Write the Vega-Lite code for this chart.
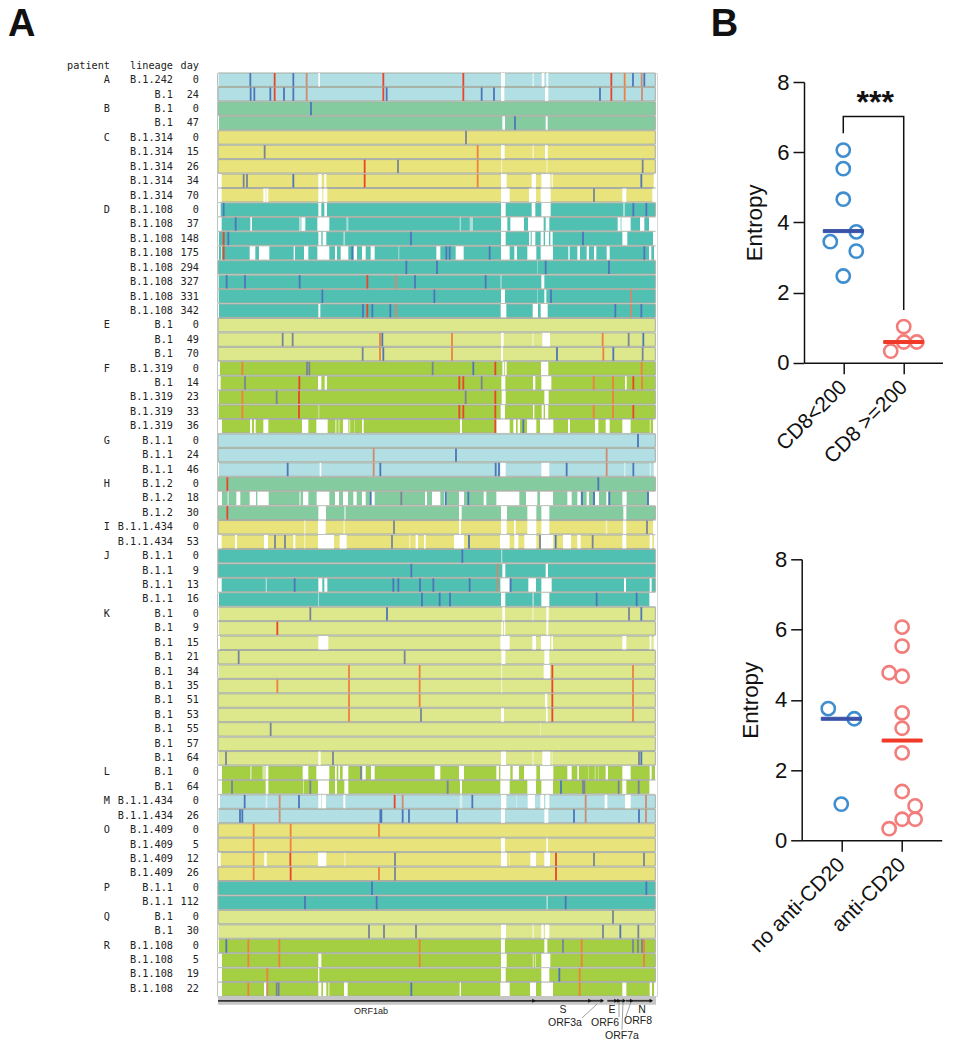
{"$schema":"https://vega.github.io/schema/vega-lite/v6.json","padding":{"left":7,"top":5,"right":0,"bottom":0},"background":"white","bounds":"flush","spacing":144.7,"config":{"view":{"stroke":null},"font":"Liberation Sans","axis":{"grid":false,"domainColor":"#111","tickColor":"#111","labelColor":"#111","titleColor":"#111"}},
"datasets":{
"samples":[{"r":0,"label":"patient","patient":"","lineage":"lineage","day":"day","genome":"SARS-CoV-2 genome"},{"r":1,"label":"A","patient":"A","lineage":"B.1.242","day":0,"a":0,"b":1312},{"r":2,"label":"","patient":"A","lineage":"B.1","day":24,"a":0,"b":1312},{"r":3,"label":"B","patient":"B","lineage":"B.1","day":0,"a":0,"b":1312},{"r":4,"label":"","patient":"B","lineage":"B.1","day":47,"a":0,"b":1312},{"r":5,"label":"C","patient":"C","lineage":"B.1.314","day":0,"a":0,"b":1312},{"r":6,"label":"","patient":"C","lineage":"B.1.314","day":15,"a":0,"b":1312},{"r":7,"label":"","patient":"C","lineage":"B.1.314","day":26,"a":0,"b":1312},{"r":8,"label":"","patient":"C","lineage":"B.1.314","day":34,"a":0,"b":1312},{"r":9,"label":"","patient":"C","lineage":"B.1.314","day":70,"a":0,"b":1312},{"r":10,"label":"D","patient":"D","lineage":"B.1.108","day":0,"a":0,"b":1312},{"r":11,"label":"","patient":"D","lineage":"B.1.108","day":37,"a":0,"b":1312},{"r":12,"label":"","patient":"D","lineage":"B.1.108","day":148,"a":0,"b":1312},{"r":13,"label":"","patient":"D","lineage":"B.1.108","day":175,"a":0,"b":1312},{"r":14,"label":"","patient":"D","lineage":"B.1.108","day":294,"a":0,"b":1312},{"r":15,"label":"","patient":"D","lineage":"B.1.108","day":327,"a":0,"b":1312},{"r":16,"label":"","patient":"D","lineage":"B.1.108","day":331,"a":0,"b":1312},{"r":17,"label":"","patient":"D","lineage":"B.1.108","day":342,"a":0,"b":1312},{"r":18,"label":"E","patient":"E","lineage":"B.1","day":0,"a":0,"b":1312},{"r":19,"label":"","patient":"E","lineage":"B.1","day":49,"a":0,"b":1312},{"r":20,"label":"","patient":"E","lineage":"B.1","day":70,"a":0,"b":1312},{"r":21,"label":"F","patient":"F","lineage":"B.1.319","day":0,"a":0,"b":1312},{"r":22,"label":"","patient":"F","lineage":"B.1","day":14,"a":0,"b":1312},{"r":23,"label":"","patient":"F","lineage":"B.1.319","day":23,"a":0,"b":1312},{"r":24,"label":"","patient":"F","lineage":"B.1.319","day":33,"a":0,"b":1312},{"r":25,"label":"","patient":"F","lineage":"B.1.319","day":36,"a":0,"b":1312},{"r":26,"label":"G","patient":"G","lineage":"B.1.1","day":0,"a":0,"b":1312},{"r":27,"label":"","patient":"G","lineage":"B.1.1","day":24,"a":0,"b":1312},{"r":28,"label":"","patient":"G","lineage":"B.1.1","day":46,"a":0,"b":1312},{"r":29,"label":"H","patient":"H","lineage":"B.1.2","day":0,"a":0,"b":1312},{"r":30,"label":"","patient":"H","lineage":"B.1.2","day":18,"a":0,"b":1312},{"r":31,"label":"","patient":"H","lineage":"B.1.2","day":30,"a":0,"b":1312},{"r":32,"label":"I","patient":"I","lineage":"B.1.1.434","day":0,"a":0,"b":1312},{"r":33,"label":"","patient":"I","lineage":"B.1.1.434","day":53,"a":0,"b":1312},{"r":34,"label":"J","patient":"J","lineage":"B.1.1","day":0,"a":0,"b":1312},{"r":35,"label":"","patient":"J","lineage":"B.1.1","day":9,"a":0,"b":1312},{"r":36,"label":"","patient":"J","lineage":"B.1.1","day":13,"a":0,"b":1312},{"r":37,"label":"","patient":"J","lineage":"B.1.1","day":16,"a":0,"b":1312},{"r":38,"label":"K","patient":"K","lineage":"B.1","day":0,"a":0,"b":1312},{"r":39,"label":"","patient":"K","lineage":"B.1","day":9,"a":0,"b":1312},{"r":40,"label":"","patient":"K","lineage":"B.1","day":15,"a":0,"b":1312},{"r":41,"label":"","patient":"K","lineage":"B.1","day":21,"a":0,"b":1312},{"r":42,"label":"","patient":"K","lineage":"B.1","day":34,"a":0,"b":1312},{"r":43,"label":"","patient":"K","lineage":"B.1","day":35,"a":0,"b":1312},{"r":44,"label":"","patient":"K","lineage":"B.1","day":51,"a":0,"b":1312},{"r":45,"label":"","patient":"K","lineage":"B.1","day":53,"a":0,"b":1312},{"r":46,"label":"","patient":"K","lineage":"B.1","day":55,"a":0,"b":1312},{"r":47,"label":"","patient":"K","lineage":"B.1","day":57,"a":0,"b":1312},{"r":48,"label":"","patient":"K","lineage":"B.1","day":64,"a":0,"b":1312},{"r":49,"label":"L","patient":"L","lineage":"B.1","day":0,"a":0,"b":1312},{"r":50,"label":"","patient":"L","lineage":"B.1","day":64,"a":0,"b":1312},{"r":51,"label":"M","patient":"M","lineage":"B.1.1.434","day":0,"a":0,"b":1312},{"r":52,"label":"","patient":"M","lineage":"B.1.1.434","day":26,"a":0,"b":1312},{"r":53,"label":"O","patient":"O","lineage":"B.1.409","day":0,"a":0,"b":1312},{"r":54,"label":"","patient":"O","lineage":"B.1.409","day":5,"a":0,"b":1312},{"r":55,"label":"","patient":"O","lineage":"B.1.409","day":12,"a":0,"b":1312},{"r":56,"label":"","patient":"O","lineage":"B.1.409","day":26,"a":0,"b":1312},{"r":57,"label":"P","patient":"P","lineage":"B.1.1","day":0,"a":0,"b":1312},{"r":58,"label":"","patient":"P","lineage":"B.1.1","day":112,"a":0,"b":1312},{"r":59,"label":"Q","patient":"Q","lineage":"B.1","day":0,"a":0,"b":1312},{"r":60,"label":"","patient":"Q","lineage":"B.1","day":30,"a":0,"b":1312},{"r":61,"label":"R","patient":"R","lineage":"B.1.108","day":0,"a":0,"b":1312},{"r":62,"label":"","patient":"R","lineage":"B.1.108","day":5,"a":0,"b":1312},{"r":63,"label":"","patient":"R","lineage":"B.1.108","day":19,"a":0,"b":1312},{"r":64,"label":"","patient":"R","lineage":"B.1.108","day":22,"a":0,"b":1312}],
"gaps":[{"r":1,"a":0,"b":2},{"r":1,"a":301,"b":306},{"r":1,"a":849,"b":861},{"r":1,"a":971,"b":979},{"r":1,"a":985,"b":991},{"r":2,"a":849,"b":859},{"r":2,"a":981,"b":991},{"r":4,"a":0,"b":3},{"r":4,"a":853,"b":861},{"r":4,"a":983,"b":989},{"r":6,"a":849,"b":860},{"r":6,"a":981,"b":989},{"r":8,"a":0,"b":11},{"r":8,"a":301,"b":311},{"r":8,"a":319,"b":325},{"r":8,"a":849,"b":866},{"r":8,"a":941,"b":954},{"r":8,"a":970,"b":997},{"r":8,"a":1001,"b":1004},{"r":8,"a":1307,"b":1314},{"r":9,"a":0,"b":11},{"r":9,"a":136,"b":143},{"r":9,"a":145,"b":151},{"r":9,"a":301,"b":313},{"r":9,"a":316,"b":328},{"r":9,"a":849,"b":875},{"r":9,"a":933,"b":954},{"r":9,"a":968,"b":998},{"r":9,"a":1213,"b":1225},{"r":9,"a":1303,"b":1314},{"r":10,"a":0,"b":8},{"r":10,"a":301,"b":310},{"r":10,"a":319,"b":327},{"r":10,"a":849,"b":863},{"r":10,"a":941,"b":952},{"r":10,"a":970,"b":998},{"r":11,"a":0,"b":11},{"r":11,"a":97,"b":102},{"r":11,"a":250,"b":262},{"r":11,"a":298,"b":334},{"r":11,"a":849,"b":868},{"r":11,"a":877,"b":918},{"r":11,"a":930,"b":977},{"r":11,"a":983,"b":994},{"r":11,"a":1199,"b":1208},{"r":11,"a":1210,"b":1238},{"r":11,"a":1266,"b":1279},{"r":11,"a":1293,"b":1314},{"r":12,"a":0,"b":3},{"r":12,"a":301,"b":310},{"r":12,"a":314,"b":325},{"r":12,"a":849,"b":863},{"r":12,"a":933,"b":938},{"r":12,"a":941,"b":952},{"r":12,"a":968,"b":977},{"r":12,"a":981,"b":993},{"r":12,"a":997,"b":1004},{"r":12,"a":1213,"b":1228},{"r":12,"a":1305,"b":1314},{"r":13,"a":0,"b":3},{"r":13,"a":9,"b":11},{"r":13,"a":95,"b":112},{"r":13,"a":123,"b":154},{"r":13,"a":227,"b":231},{"r":13,"a":258,"b":271},{"r":13,"a":298,"b":334},{"r":13,"a":351,"b":357},{"r":13,"a":368,"b":391},{"r":13,"a":407,"b":417},{"r":13,"a":432,"b":443},{"r":13,"a":458,"b":470},{"r":13,"a":655,"b":667},{"r":13,"a":713,"b":737},{"r":13,"a":849,"b":875},{"r":13,"a":889,"b":897},{"r":13,"a":928,"b":955},{"r":13,"a":968,"b":1005},{"r":13,"a":1051,"b":1055},{"r":13,"a":1078,"b":1086},{"r":13,"a":1106,"b":1113},{"r":13,"a":1128,"b":1135},{"r":13,"a":1166,"b":1175},{"r":13,"a":1293,"b":1300},{"r":13,"a":1308,"b":1314},{"r":15,"a":0,"b":2},{"r":15,"a":970,"b":979},{"r":16,"a":0,"b":2},{"r":16,"a":849,"b":861},{"r":16,"a":979,"b":985},{"r":17,"a":0,"b":3},{"r":17,"a":301,"b":307},{"r":17,"a":848,"b":865},{"r":17,"a":944,"b":960},{"r":17,"a":968,"b":989},{"r":19,"a":849,"b":857},{"r":19,"a":973,"b":996},{"r":20,"a":849,"b":855},{"r":21,"a":0,"b":6},{"r":21,"a":853,"b":859},{"r":21,"a":861,"b":866},{"r":21,"a":969,"b":991},{"r":22,"a":0,"b":8},{"r":22,"a":300,"b":310},{"r":22,"a":320,"b":327},{"r":22,"a":850,"b":862},{"r":22,"a":945,"b":952},{"r":22,"a":970,"b":1000},{"r":22,"a":1221,"b":1226},{"r":23,"a":0,"b":3},{"r":23,"a":851,"b":863},{"r":23,"a":979,"b":992},{"r":24,"a":0,"b":2},{"r":24,"a":848,"b":861},{"r":24,"a":945,"b":949},{"r":24,"a":971,"b":977},{"r":24,"a":981,"b":991},{"r":25,"a":0,"b":12},{"r":25,"a":96,"b":102},{"r":25,"a":108,"b":113},{"r":25,"a":136,"b":151},{"r":25,"a":252,"b":271},{"r":25,"a":295,"b":329},{"r":25,"a":375,"b":391},{"r":25,"a":432,"b":437},{"r":25,"a":726,"b":732},{"r":25,"a":835,"b":875},{"r":25,"a":886,"b":894},{"r":25,"a":899,"b":906},{"r":25,"a":927,"b":955},{"r":25,"a":966,"b":1006},{"r":25,"a":1050,"b":1056},{"r":25,"a":1131,"b":1141},{"r":25,"a":1163,"b":1175},{"r":25,"a":1213,"b":1238},{"r":25,"a":1305,"b":1314},{"r":28,"a":0,"b":3},{"r":28,"a":305,"b":310},{"r":28,"a":847,"b":863},{"r":28,"a":970,"b":994},{"r":28,"a":1307,"b":1314},{"r":30,"a":0,"b":12},{"r":30,"a":55,"b":67},{"r":30,"a":95,"b":114},{"r":30,"a":118,"b":152},{"r":30,"a":255,"b":271},{"r":30,"a":296,"b":334},{"r":30,"a":351,"b":363},{"r":30,"a":375,"b":390},{"r":30,"a":406,"b":416},{"r":30,"a":432,"b":443},{"r":30,"a":460,"b":470},{"r":30,"a":621,"b":627},{"r":30,"a":642,"b":667},{"r":30,"a":678,"b":682},{"r":30,"a":723,"b":738},{"r":30,"a":797,"b":805},{"r":30,"a":835,"b":904},{"r":30,"a":924,"b":958},{"r":30,"a":966,"b":1005},{"r":30,"a":1048,"b":1061},{"r":30,"a":1078,"b":1088},{"r":30,"a":1106,"b":1113},{"r":30,"a":1131,"b":1143},{"r":30,"a":1165,"b":1171},{"r":30,"a":1213,"b":1226},{"r":30,"a":1293,"b":1314},{"r":31,"a":301,"b":324},{"r":31,"a":723,"b":731},{"r":31,"a":849,"b":867},{"r":31,"a":928,"b":955},{"r":31,"a":970,"b":994},{"r":31,"a":1216,"b":1225},{"r":32,"a":300,"b":323},{"r":32,"a":723,"b":729},{"r":32,"a":849,"b":866},{"r":32,"a":888,"b":893},{"r":32,"a":928,"b":955},{"r":32,"a":970,"b":994},{"r":32,"a":1215,"b":1225},{"r":32,"a":1305,"b":1314},{"r":33,"a":0,"b":11},{"r":33,"a":51,"b":57},{"r":33,"a":138,"b":150},{"r":33,"a":226,"b":232},{"r":33,"a":300,"b":348},{"r":33,"a":365,"b":386},{"r":33,"a":593,"b":600},{"r":33,"a":618,"b":623},{"r":33,"a":708,"b":738},{"r":33,"a":846,"b":875},{"r":33,"a":889,"b":901},{"r":33,"a":919,"b":955},{"r":33,"a":969,"b":1005},{"r":33,"a":1035,"b":1059},{"r":33,"a":1078,"b":1088},{"r":33,"a":1213,"b":1225},{"r":33,"a":1295,"b":1303},{"r":33,"a":1308,"b":1314},{"r":35,"a":853,"b":862},{"r":35,"a":983,"b":990},{"r":36,"a":0,"b":11},{"r":36,"a":301,"b":313},{"r":36,"a":319,"b":328},{"r":36,"a":847,"b":875},{"r":36,"a":931,"b":954},{"r":36,"a":970,"b":1001},{"r":36,"a":1218,"b":1224},{"r":36,"a":1295,"b":1301},{"r":37,"a":0,"b":3},{"r":37,"a":849,"b":862},{"r":37,"a":970,"b":994},{"r":37,"a":1294,"b":1314},{"r":38,"a":0,"b":3},{"r":38,"a":853,"b":861},{"r":38,"a":985,"b":992},{"r":39,"a":0,"b":3},{"r":39,"a":850,"b":855},{"r":39,"a":858,"b":862},{"r":39,"a":985,"b":991},{"r":40,"a":0,"b":6},{"r":40,"a":301,"b":331},{"r":40,"a":847,"b":875},{"r":40,"a":943,"b":954},{"r":40,"a":969,"b":996},{"r":40,"a":1000,"b":1005},{"r":40,"a":1213,"b":1225},{"r":40,"a":1295,"b":1300},{"r":40,"a":1307,"b":1314},{"r":41,"a":850,"b":862},{"r":41,"a":979,"b":994},{"r":42,"a":0,"b":2},{"r":42,"a":977,"b":996},{"r":44,"a":981,"b":988},{"r":45,"a":849,"b":858},{"r":45,"a":984,"b":989},{"r":48,"a":0,"b":2},{"r":48,"a":301,"b":308},{"r":48,"a":849,"b":864},{"r":48,"a":973,"b":997},{"r":49,"a":0,"b":12},{"r":49,"a":143,"b":151},{"r":49,"a":254,"b":271},{"r":49,"a":295,"b":334},{"r":49,"a":351,"b":356},{"r":49,"a":361,"b":366},{"r":49,"a":374,"b":391},{"r":49,"a":433,"b":443},{"r":49,"a":459,"b":470},{"r":49,"a":650,"b":667},{"r":49,"a":723,"b":738},{"r":49,"a":835,"b":843},{"r":49,"a":847,"b":877},{"r":49,"a":884,"b":903},{"r":49,"a":918,"b":955},{"r":49,"a":966,"b":1006},{"r":49,"a":1048,"b":1061},{"r":49,"a":1078,"b":1083},{"r":49,"a":1163,"b":1170},{"r":49,"a":1213,"b":1238},{"r":49,"a":1295,"b":1301},{"r":49,"a":1311,"b":1314},{"r":50,"a":0,"b":12},{"r":50,"a":143,"b":151},{"r":50,"a":300,"b":333},{"r":50,"a":351,"b":357},{"r":50,"a":379,"b":391},{"r":50,"a":726,"b":732},{"r":50,"a":847,"b":875},{"r":50,"a":928,"b":954},{"r":50,"a":970,"b":1005},{"r":50,"a":1213,"b":1225},{"r":50,"a":1294,"b":1314},{"r":51,"a":0,"b":6},{"r":51,"a":301,"b":310},{"r":51,"a":312,"b":324},{"r":51,"a":376,"b":382},{"r":51,"a":849,"b":865},{"r":51,"a":929,"b":951},{"r":51,"a":967,"b":978},{"r":51,"a":982,"b":994},{"r":51,"a":1160,"b":1168},{"r":51,"a":1221,"b":1238},{"r":52,"a":0,"b":2},{"r":52,"a":849,"b":861},{"r":52,"a":979,"b":991},{"r":54,"a":849,"b":861},{"r":54,"a":985,"b":990},{"r":55,"a":0,"b":8},{"r":55,"a":139,"b":146},{"r":55,"a":300,"b":325},{"r":55,"a":849,"b":867},{"r":55,"a":937,"b":954},{"r":55,"a":979,"b":996},{"r":60,"a":0,"b":2},{"r":60,"a":849,"b":864},{"r":60,"a":970,"b":977},{"r":60,"a":981,"b":994},{"r":61,"a":0,"b":3},{"r":61,"a":849,"b":861},{"r":61,"a":979,"b":988},{"r":62,"a":0,"b":12},{"r":62,"a":301,"b":310},{"r":62,"a":849,"b":866},{"r":62,"a":970,"b":997},{"r":63,"a":0,"b":12},{"r":63,"a":300,"b":304},{"r":63,"a":849,"b":863},{"r":63,"a":970,"b":994},{"r":64,"a":0,"b":12},{"r":64,"a":138,"b":145},{"r":64,"a":301,"b":310},{"r":64,"a":315,"b":325},{"r":64,"a":378,"b":389},{"r":64,"a":725,"b":729},{"r":64,"a":847,"b":875},{"r":64,"a":936,"b":954},{"r":64,"a":970,"b":1005},{"r":64,"a":1213,"b":1225},{"r":64,"a":1295,"b":1302},{"r":64,"a":1308,"b":1314}],
"low":[{"r":1,"a":943,"b":948},{"r":6,"a":943,"b":948},{"r":7,"a":849,"b":853},{"r":7,"a":985,"b":989},{"r":10,"a":1215,"b":1221},{"r":11,"a":243,"b":249},{"r":11,"a":385,"b":391},{"r":11,"a":725,"b":729},{"r":11,"a":755,"b":765},{"r":12,"a":376,"b":381},{"r":13,"a":541,"b":544},{"r":14,"a":958,"b":960},{"r":15,"a":847,"b":851},{"r":16,"a":958,"b":960},{"r":19,"a":943,"b":947},{"r":24,"a":301,"b":304},{"r":25,"a":351,"b":356},{"r":25,"a":361,"b":365},{"r":25,"a":393,"b":397},{"r":25,"a":408,"b":410},{"r":25,"a":1295,"b":1299},{"r":28,"a":1218,"b":1222},{"r":28,"a":1295,"b":1299},{"r":30,"a":28,"b":33},{"r":30,"a":243,"b":249},{"r":31,"a":378,"b":384},{"r":32,"a":258,"b":263},{"r":32,"a":376,"b":381},{"r":32,"a":1163,"b":1168},{"r":33,"a":258,"b":262},{"r":33,"a":573,"b":577},{"r":34,"a":849,"b":853},{"r":36,"a":143,"b":147},{"r":37,"a":300,"b":303},{"r":37,"a":943,"b":948},{"r":38,"a":943,"b":947},{"r":42,"a":849,"b":853},{"r":43,"a":849,"b":853},{"r":46,"a":966,"b":968},{"r":48,"a":943,"b":947},{"r":48,"a":1001,"b":1004},{"r":49,"a":96,"b":101},{"r":49,"a":133,"b":143},{"r":49,"a":1110,"b":1112},{"r":49,"a":1130,"b":1133},{"r":49,"a":1141,"b":1143},{"r":50,"a":255,"b":258},{"r":51,"a":143,"b":148},{"r":51,"a":725,"b":733},{"r":51,"a":895,"b":897},{"r":55,"a":379,"b":383},{"r":55,"a":873,"b":875},{"r":58,"a":985,"b":990},{"r":60,"a":943,"b":948},{"r":62,"a":944,"b":948},{"r":62,"a":951,"b":954},{"r":64,"a":330,"b":335}],
"muts":[{"r":1,"p":97,"t":"b"},{"r":1,"p":170,"t":"r"},{"r":1,"p":226,"t":"b"},{"r":1,"p":266,"t":"s"},{"r":1,"p":496,"t":"r"},{"r":1,"p":736,"t":"r"},{"r":1,"p":1180,"t":"r"},{"r":1,"p":1220,"t":"o"},{"r":1,"p":1245,"t":"b"},{"r":1,"p":1271,"t":"s"},{"r":1,"p":1279,"t":"b"},{"r":2,"p":98,"t":"b"},{"r":2,"p":109,"t":"b"},{"r":2,"p":157,"t":"b"},{"r":2,"p":170,"t":"r"},{"r":2,"p":198,"t":"b"},{"r":2,"p":226,"t":"b"},{"r":2,"p":266,"t":"s"},{"r":2,"p":496,"t":"r"},{"r":2,"p":506,"t":"b"},{"r":2,"p":736,"t":"r"},{"r":2,"p":791,"t":"b"},{"r":2,"p":828,"t":"b"},{"r":2,"p":1146,"t":"b"},{"r":2,"p":1180,"t":"r"},{"r":2,"p":1220,"t":"o"},{"r":2,"p":1272,"t":"s"},{"r":3,"p":279,"t":"b"},{"r":4,"p":891,"t":"b"},{"r":5,"p":744,"t":"g"},{"r":6,"p":140,"t":"g"},{"r":6,"p":779,"t":"o"},{"r":7,"p":440,"t":"r"},{"r":7,"p":540,"t":"g"},{"r":7,"p":779,"t":"o"},{"r":7,"p":1274,"t":"g"},{"r":8,"p":77,"t":"g"},{"r":8,"p":87,"t":"g"},{"r":8,"p":226,"t":"b"},{"r":8,"p":440,"t":"r"},{"r":8,"p":779,"t":"o"},{"r":8,"p":1270,"t":"b"},{"r":9,"p":1128,"t":"g"},{"r":10,"p":17,"t":"b"},{"r":10,"p":1246,"t":"b"},{"r":10,"p":1285,"t":"b"},{"r":11,"p":53,"t":"b"},{"r":12,"p":17,"t":"r"},{"r":12,"p":31,"t":"b"},{"r":12,"p":579,"t":"b"},{"r":12,"p":1095,"t":"b"},{"r":13,"p":17,"t":"r"},{"r":13,"p":403,"t":"b"},{"r":13,"p":685,"t":"b"},{"r":13,"p":695,"t":"b"},{"r":13,"p":815,"t":"b"},{"r":13,"p":1279,"t":"b"},{"r":14,"p":565,"t":"b"},{"r":14,"p":657,"t":"b"},{"r":14,"p":983,"t":"b"},{"r":14,"p":1173,"t":"b"},{"r":15,"p":26,"t":"b"},{"r":15,"p":81,"t":"b"},{"r":15,"p":245,"t":"b"},{"r":15,"p":448,"t":"r"},{"r":15,"p":534,"t":"s"},{"r":15,"p":591,"t":"b"},{"r":15,"p":803,"t":"b"},{"r":16,"p":313,"t":"b"},{"r":16,"p":649,"t":"b"},{"r":16,"p":999,"t":"b"},{"r":16,"p":1239,"t":"s"},{"r":17,"p":435,"t":"b"},{"r":17,"p":448,"t":"r"},{"r":17,"p":463,"t":"b"},{"r":17,"p":517,"t":"b"},{"r":17,"p":534,"t":"s"},{"r":17,"p":1192,"t":"b"},{"r":17,"p":1239,"t":"s"},{"r":17,"p":1270,"t":"b"},{"r":19,"p":194,"t":"g"},{"r":19,"p":224,"t":"g"},{"r":19,"p":486,"t":"o"},{"r":19,"p":493,"t":"b"},{"r":19,"p":702,"t":"o"},{"r":19,"p":1154,"t":"o"},{"r":19,"p":1232,"t":"g"},{"r":19,"p":1276,"t":"b"},{"r":20,"p":434,"t":"g"},{"r":20,"p":486,"t":"o"},{"r":20,"p":496,"t":"b"},{"r":20,"p":702,"t":"o"},{"r":20,"p":1017,"t":"b"},{"r":20,"p":1156,"t":"o"},{"r":20,"p":1186,"t":"b"},{"r":20,"p":1274,"t":"g"},{"r":21,"p":73,"t":"o"},{"r":21,"p":267,"t":"g"},{"r":21,"p":274,"t":"g"},{"r":21,"p":644,"t":"g"},{"r":21,"p":766,"t":"b"},{"r":21,"p":832,"t":"r"},{"r":21,"p":1271,"t":"o"},{"r":22,"p":81,"t":"g"},{"r":22,"p":244,"t":"r"},{"r":22,"p":724,"t":"r"},{"r":22,"p":736,"t":"r"},{"r":22,"p":791,"t":"g"},{"r":22,"p":1127,"t":"o"},{"r":22,"p":1185,"t":"o"},{"r":22,"p":1246,"t":"r"},{"r":22,"p":1272,"t":"o"},{"r":23,"p":73,"t":"o"},{"r":23,"p":176,"t":"g"},{"r":23,"p":243,"t":"r"},{"r":23,"p":743,"t":"g"},{"r":23,"p":832,"t":"r"},{"r":23,"p":1185,"t":"o"},{"r":24,"p":73,"t":"o"},{"r":24,"p":243,"t":"r"},{"r":24,"p":724,"t":"r"},{"r":24,"p":736,"t":"r"},{"r":24,"p":832,"t":"r"},{"r":24,"p":1127,"t":"o"},{"r":24,"p":1185,"t":"o"},{"r":24,"p":1246,"t":"r"},{"r":25,"p":832,"t":"r"},{"r":25,"p":916,"t":"b"},{"r":26,"p":1260,"t":"b"},{"r":27,"p":467,"t":"s"},{"r":27,"p":714,"t":"b"},{"r":27,"p":1166,"t":"s"},{"r":28,"p":209,"t":"b"},{"r":28,"p":467,"t":"s"},{"r":28,"p":487,"t":"b"},{"r":28,"p":833,"t":"b"},{"r":28,"p":843,"t":"b"},{"r":28,"p":1046,"t":"b"},{"r":28,"p":1166,"t":"s"},{"r":28,"p":1246,"t":"b"},{"r":29,"p":28,"t":"r"},{"r":29,"p":1141,"t":"b"},{"r":30,"p":458,"t":"b"},{"r":30,"p":550,"t":"g"},{"r":30,"p":683,"t":"b"},{"r":30,"p":751,"t":"b"},{"r":30,"p":1092,"t":"b"},{"r":30,"p":1128,"t":"b"},{"r":30,"p":1174,"t":"b"},{"r":30,"p":1290,"t":"b"},{"r":31,"p":28,"t":"r"},{"r":32,"p":528,"t":"g"},{"r":32,"p":1287,"t":"g"},{"r":33,"p":171,"t":"g"},{"r":33,"p":201,"t":"g"},{"r":33,"p":522,"t":"g"},{"r":33,"p":753,"t":"b"},{"r":33,"p":966,"t":"g"},{"r":33,"p":1013,"t":"b"},{"r":33,"p":1124,"t":"g"},{"r":34,"p":733,"t":"b"},{"r":35,"p":580,"t":"b"},{"r":35,"p":839,"t":"s"},{"r":36,"p":230,"t":"b"},{"r":36,"p":526,"t":"b"},{"r":36,"p":541,"t":"b"},{"r":36,"p":606,"t":"b"},{"r":36,"p":646,"t":"b"},{"r":36,"p":755,"t":"b"},{"r":36,"p":839,"t":"s"},{"r":36,"p":878,"t":"b"},{"r":37,"p":612,"t":"b"},{"r":37,"p":665,"t":"b"},{"r":37,"p":696,"t":"b"},{"r":37,"p":1136,"t":"b"},{"r":37,"p":1256,"t":"b"},{"r":38,"p":277,"t":"g"},{"r":38,"p":507,"t":"b"},{"r":38,"p":1233,"t":"g"},{"r":38,"p":1270,"t":"b"},{"r":39,"p":178,"t":"r"},{"r":41,"p":62,"t":"g"},{"r":41,"p":560,"t":"g"},{"r":42,"p":393,"t":"o"},{"r":42,"p":605,"t":"o"},{"r":42,"p":1003,"t":"r"},{"r":42,"p":1245,"t":"o"},{"r":43,"p":178,"t":"o"},{"r":43,"p":393,"t":"o"},{"r":43,"p":605,"t":"o"},{"r":43,"p":1003,"t":"r"},{"r":43,"p":1245,"t":"o"},{"r":44,"p":393,"t":"o"},{"r":44,"p":605,"t":"o"},{"r":44,"p":1003,"t":"r"},{"r":44,"p":1245,"t":"o"},{"r":45,"p":393,"t":"o"},{"r":45,"p":609,"t":"g"},{"r":45,"p":1003,"t":"r"},{"r":45,"p":1245,"t":"o"},{"r":46,"p":158,"t":"g"},{"r":48,"p":24,"t":"g"},{"r":48,"p":345,"t":"g"},{"r":48,"p":1263,"t":"g"},{"r":48,"p":1270,"t":"b"},{"r":49,"p":429,"t":"g"},{"r":50,"p":42,"t":"g"},{"r":50,"p":277,"t":"g"},{"r":50,"p":689,"t":"g"},{"r":50,"p":1029,"t":"b"},{"r":50,"p":1095,"t":"g"},{"r":50,"p":1099,"t":"g"},{"r":50,"p":1202,"t":"g"},{"r":50,"p":1262,"t":"g"},{"r":51,"p":80,"t":"b"},{"r":51,"p":185,"t":"s"},{"r":51,"p":243,"t":"b"},{"r":51,"p":530,"t":"r"},{"r":51,"p":554,"t":"s"},{"r":51,"p":763,"t":"b"},{"r":51,"p":1103,"t":"s"},{"r":51,"p":1284,"t":"s"},{"r":52,"p":66,"t":"b"},{"r":52,"p":73,"t":"b"},{"r":52,"p":185,"t":"s"},{"r":52,"p":487,"t":"b"},{"r":52,"p":490,"t":"b"},{"r":52,"p":554,"t":"b"},{"r":52,"p":573,"t":"b"},{"r":52,"p":717,"t":"b"},{"r":52,"p":1068,"t":"b"},{"r":52,"p":1103,"t":"s"},{"r":52,"p":1263,"t":"b"},{"r":52,"p":1284,"t":"s"},{"r":53,"p":107,"t":"o"},{"r":53,"p":218,"t":"o"},{"r":53,"p":483,"t":"o"},{"r":54,"p":107,"t":"o"},{"r":54,"p":218,"t":"o"},{"r":55,"p":107,"t":"o"},{"r":55,"p":217,"t":"r"},{"r":55,"p":531,"t":"g"},{"r":55,"p":1014,"t":"r"},{"r":55,"p":1128,"t":"g"},{"r":55,"p":1278,"t":"g"},{"r":56,"p":107,"t":"o"},{"r":56,"p":218,"t":"r"},{"r":56,"p":483,"t":"o"},{"r":56,"p":531,"t":"g"},{"r":56,"p":1014,"t":"r"},{"r":57,"p":462,"t":"b"},{"r":57,"p":1285,"t":"b"},{"r":58,"p":261,"t":"b"},{"r":58,"p":476,"t":"b"},{"r":58,"p":1043,"t":"b"},{"r":59,"p":1185,"t":"g"},{"r":60,"p":453,"t":"g"},{"r":60,"p":498,"t":"g"},{"r":60,"p":594,"t":"g"},{"r":60,"p":1155,"t":"g"},{"r":60,"p":1207,"t":"b"},{"r":60,"p":1261,"t":"g"},{"r":61,"p":25,"t":"b"},{"r":61,"p":91,"t":"o"},{"r":61,"p":184,"t":"o"},{"r":61,"p":605,"t":"o"},{"r":61,"p":1035,"t":"g"},{"r":61,"p":1091,"t":"o"},{"r":61,"p":1245,"t":"g"},{"r":61,"p":1260,"t":"g"},{"r":61,"p":1272,"t":"g"},{"r":61,"p":1278,"t":"o"},{"r":62,"p":91,"t":"o"},{"r":62,"p":184,"t":"o"},{"r":62,"p":605,"t":"o"},{"r":62,"p":1091,"t":"o"},{"r":62,"p":1278,"t":"o"},{"r":63,"p":148,"t":"o"},{"r":63,"p":1024,"t":"b"},{"r":63,"p":1085,"t":"o"},{"r":64,"p":91,"t":"o"},{"r":64,"p":148,"t":"s"},{"r":64,"p":176,"t":"g"},{"r":64,"p":182,"t":"g"},{"r":64,"p":580,"t":"b"},{"r":64,"p":1085,"t":"o"}],
"genes":[{"gene":"ORF1ab","a":0,"b":948},{"gene":"S","a":948,"b":1116},{"gene":"ORF3a","a":1116,"b":1153},{"gene":"E","a":1168,"b":1194},{"gene":"M","a":1194,"b":1203},{"gene":"ORF6","a":1203,"b":1219},{"gene":"ORF8","a":1224,"b":1241},{"gene":"N","a":1241,"b":1300}],
"geneLabels":[{"name":"ORF1ab","p":459,"level":1.25},{"name":"S","p":1035,"level":1.17},{"name":"ORF3a","p":1041,"level":2.25},{"name":"E","p":1182,"level":1.17},{"name":"ORF6","p":1161,"level":2.25},{"name":"ORF7a","p":1212,"level":3.33},{"name":"N","p":1272,"level":1.17},{"name":"ORF8","p":1260,"level":2.1}],
"leaders":[{"a":1092,"b":1137,"l1":1.83,"l2":0.67},{"a":1203,"b":1203,"l1":1.75,"l2":0.5},{"a":1212,"b":1215,"l1":2.83,"l2":0.5},{"a":1224,"b":1239,"l1":1.67,"l2":0.5}],
"cd8":[{"g":"CD8<200","e":6.06,"s":0},{"g":"CD8<200","e":5.53,"s":0},{"g":"CD8<200","e":4.66,"s":0},{"g":"CD8<200","e":3.73,"s":1},{"g":"CD8<200","e":3.45,"s":-1},{"g":"CD8<200","e":3.18,"s":1},{"g":"CD8<200","e":2.47,"s":0},{"g":"CD8 >=200","e":1.03,"s":0},{"g":"CD8 >=200","e":0.59,"s":0},{"g":"CD8 >=200","e":0.59,"s":1},{"g":"CD8 >=200","e":0.33,"s":-1}],
"cd8m":[{"g":"CD8<200","e":3.75},{"g":"CD8 >=200","e":0.59}],
"bracket":[{"g":"CD8<200","e":6.54,"o":1},{"g":"CD8<200","e":7.02,"o":2},{"g":"CD8 >=200","e":7.02,"o":3},{"g":"CD8 >=200","e":1.5,"o":4}],
"cd20":[{"g":"no anti-CD20","e":3.75,"s":-1},{"g":"no anti-CD20","e":3.46,"s":1},{"g":"no anti-CD20","e":1.03,"s":0},{"g":"anti-CD20","e":6.07,"s":0},{"g":"anti-CD20","e":5.53,"s":0},{"g":"anti-CD20","e":4.77,"s":-1},{"g":"anti-CD20","e":4.67,"s":0},{"g":"anti-CD20","e":3.63,"s":0},{"g":"anti-CD20","e":3.19,"s":0},{"g":"anti-CD20","e":2.49,"s":0},{"g":"anti-CD20","e":1.39,"s":0},{"g":"anti-CD20","e":0.98,"s":1},{"g":"anti-CD20","e":0.6,"s":0},{"g":"anti-CD20","e":0.6,"s":1},{"g":"anti-CD20","e":0.33,"s":-1}],
"cd20m":[{"g":"no anti-CD20","e":3.46},{"g":"anti-CD20","e":2.84}]
},
"hconcat":[
{"width":440,"height":923,"view":{"stroke":"#d8d8d8"},
"title":{"text":"A","anchor":"start","frame":"group","dx":-209,"offset":17,"fontSize":38,"fontWeight":"bold","font":"Liberation Sans","color":"#111"},
"resolve":{"scale":{"x":"independent","y":"independent","color":"independent"}},
"layer":[
{"resolve":{"scale":{"color":"independent"}},
"encoding":{"y":{"field":"r","type":"ordinal","axis":null,"scale":{"domain":[0,1,2,3,4,5,6,7,8,9,10,11,12,13,14,15,16,17,18,19,20,21,22,23,24,25,26,27,28,29,30,31,32,33,34,35,36,37,38,39,40,41,42,43,44,45,46,47,48,49,50,51,52,53,54,55,56,57,58,59,60,61,62,63,64],"range":[-14.44,923],"paddingInner":0.07,"paddingOuter":0}},
"x":{"field":"a","type":"quantitative","axis":null,"scale":{"domain":[0,1314],"range":[1,439],"nice":false,"zero":false}},"x2":{"field":"b"}},
"layer":[
{"data":{"name":"samples"},"transform":[{"filter":"datum.r>0"}],"mark":{"type":"rect","stroke":"#a7aea3","strokeWidth":1},"encoding":{"color":{"field":"patient","type":"nominal","legend":null,"scale":{"domain":["A","B","C","D","E","F","G","H","I","J","K","L","M","O","P","Q","R"],"range":["#b1dfe4","#84cb9f","#e8e37a","#50c0b2","#dde88d","#a5cf42","#b1dfe4","#84cb9f","#e8e37a","#50c0b2","#dde88d","#a5cf42","#b1dfe4","#e8e37a","#50c0b2","#dde88d","#a5cf42"]}}}},
{"data":{"name":"gaps"},"mark":{"type":"rect","fill":"white"}},
{"data":{"name":"low"},"mark":{"type":"rect","fill":"white","opacity":0.5}},
{"data":{"name":"muts"},"mark":{"type":"tick","orient":"vertical","thickness":1.8,"size":13.4,"opacity":1},"encoding":{"x":{"field":"p","type":"quantitative"},"x2":null,"color":{"field":"t","type":"nominal","legend":null,"scale":{"domain":["r","o","s","b","g"],"range":["#e8442e","#ee8040","#d08a70","#4d76b8","#7a8499"]}}}},
{"data":{"name":"samples"},"transform":[{"filter":"datum.r==0"}],"mark":{"type":"text","font":"DejaVu Sans Mono","fontSize":10.2,"color":"#222"},"encoding":{"x":{"datum":657,"type":"quantitative"},"x2":null,"text":{"field":"genome"}}}
]},
{"data":{"name":"samples"},
"encoding":{"y":{"field":"r","type":"ordinal","axis":null,"scale":{"domain":[0,1,2,3,4,5,6,7,8,9,10,11,12,13,14,15,16,17,18,19,20,21,22,23,24,25,26,27,28,29,30,31,32,33,34,35,36,37,38,39,40,41,42,43,44,45,46,47,48,49,50,51,52,53,54,55,56,57,58,59,60,61,62,63,64],"range":[-14.44,923],"paddingInner":0.07,"paddingOuter":0}}},
"layer":[
{"mark":{"type":"text","font":"DejaVu Sans Mono","fontSize":10.2,"align":"right","color":"#222"},"encoding":{"x":{"datum":"patient","type":"nominal","axis":null,"scale":{"type":"point","domain":["patient","lineage","day"],"range":[-107,-18],"padding":0}},"text":{"field":"label"}}},
{"mark":{"type":"text","font":"DejaVu Sans Mono","fontSize":10.2,"align":"right","color":"#222","dx":18.5},"encoding":{"x":{"datum":"lineage","type":"nominal"},"text":{"field":"lineage"}}},
{"mark":{"type":"text","font":"DejaVu Sans Mono","fontSize":10.2,"align":"right","color":"#222"},"encoding":{"x":{"datum":"day","type":"nominal"},"text":{"field":"day"}}}
]},
{"encoding":{"x":{"field":"a","type":"quantitative","axis":null,"scale":{"domain":[0,1314],"range":[1,439],"nice":false,"zero":false}}},
"layer":[
{"data":{"values":[{"a":0,"b":1314,"l1":0,"l2":0.72}]},"mark":{"type":"rect","fill":"#c6c6c6"},"encoding":{"x2":{"field":"b"},"y":{"field":"l1","type":"quantitative","axis":null,"scale":{"domain":[0,4],"range":[923,971],"nice":false,"zero":false}},"y2":{"field":"l2"}}},
{"data":{"name":"genes"},"mark":{"type":"rule","color":"#333","strokeWidth":1.8},"encoding":{"x2":{"field":"b"},"y":{"datum":0.4,"type":"quantitative"}}},
{"data":{"name":"genes"},"mark":{"type":"point","shape":"triangle-right","filled":true,"size":16,"color":"#111","opacity":1},"encoding":{"x":{"field":"b","type":"quantitative"},"y":{"datum":0.4,"type":"quantitative"}}},
{"data":{"name":"leaders"},"mark":{"type":"rule","color":"#777","strokeWidth":0.7},"encoding":{"x2":{"field":"b"},"y":{"field":"l1","type":"quantitative"},"y2":{"field":"l2"}}},
{"data":{"name":"geneLabels"},"mark":{"type":"text","font":"Liberation Sans","color":"#222"},"encoding":{"x":{"field":"p","type":"quantitative"},"y":{"field":"level","type":"quantitative"},"text":{"field":"name"},"size":{"condition":{"test":"datum.name=='ORF1ab'","value":9},"value":10.5}}}
]}
]},
{"bounds":"flush","spacing":196.3,"vconcat":[
{"width":141.3,"height":289.7,
"title":{"text":"B","anchor":"start","frame":"group","dx":-91,"offset":27,"fontSize":38,"fontWeight":"bold","font":"Liberation Sans","color":"#111"},
"encoding":{"x":{"field":"g","type":"nominal","sort":null,"scale":{"type":"point","domain":["CD8<200","CD8 >=200"],"range":[2.3,141.3],"padding":0.65},"axis":{"title":null,"labelAngle":-45,"labelAlign":"right","labelBaseline":"middle","labelFontSize":21,"labelPadding":10,"tickSize":11,"tickWidth":1.5,"domainWidth":1.5,"labelLimit":300}},
"y":{"field":"e","type":"quantitative","scale":{"domain":[0,8],"range":[289.7,9],"nice":false},"axis":{"title":"Entropy","values":[0,2,4,6,8],"offset":-2.3,"labelFontSize":22,"titleFontSize":22.3,"titleFontWeight":"normal","tickSize":11,"tickWidth":1.5,"domainWidth":1.5,"labelPadding":4,"titlePadding":10}}},
"layer":[
{"data":{"name":"cd8"},"mark":{"type":"point","filled":false,"size":175,"strokeWidth":2.6,"opacity":1},"encoding":{"xOffset":{"field":"s","type":"quantitative","scale":{"domain":[-1,1],"range":[-13,13]}},"color":{"field":"g","type":"nominal","legend":null,"scale":{"domain":["CD8<200","CD8 >=200"],"range":["#3f8ecf","#f27d7b"]}}}},
{"data":{"name":"cd8m"},"mark":{"type":"tick","orient":"horizontal","size":40,"thickness":3,"opacity":1},"encoding":{"stroke":{"field":"g","type":"nominal","legend":null,"scale":{"domain":["CD8<200","CD8 >=200"],"range":["#3a52a8","#f03a28"]}},"fill":{"field":"g","type":"nominal","legend":null,"scale":{"domain":["CD8<200","CD8 >=200"],"range":["#3a52a8","#f03a28"]}}}},
{"data":{"name":"bracket"},"mark":{"type":"line","color":"#111","strokeWidth":1.5},"encoding":{"order":{"field":"o","type":"quantitative"}}},
{"data":{"values":[{"g":"CD8<200","e":7.4,"star":"***"}]},"mark":{"type":"text","font":"Liberation Sans","fontWeight":"bold","fontSize":32,"dx":32,"color":"#111"},"encoding":{"text":{"field":"star"}}}
]},
{"width":140,"height":281,
"encoding":{"x":{"field":"g","type":"nominal","sort":null,"scale":{"type":"point","domain":["no anti-CD20","anti-CD20"],"range":[0,140],"padding":0.65},"axis":{"title":null,"labelAngle":-45,"labelAlign":"right","labelBaseline":"middle","labelFontSize":21,"labelPadding":10,"tickSize":11,"tickWidth":1.5,"domainWidth":1.5,"labelLimit":300}},
"y":{"field":"e","type":"quantitative","scale":{"domain":[0,8],"nice":false},"axis":{"title":"Entropy","values":[0,2,4,6,8],"labelFontSize":22,"titleFontSize":22.3,"titleFontWeight":"normal","tickSize":11,"tickWidth":1.5,"domainWidth":1.5,"labelPadding":4,"titlePadding":12}}},
"layer":[
{"data":{"name":"cd20"},"mark":{"type":"point","filled":false,"size":175,"strokeWidth":2.6,"opacity":1},"encoding":{"xOffset":{"field":"s","type":"quantitative","scale":{"domain":[-1,1],"range":[-13,13]}},"color":{"field":"g","type":"nominal","legend":null,"scale":{"domain":["no anti-CD20","anti-CD20"],"range":["#3f8ecf","#f27d7b"]}}}},
{"data":{"name":"cd20m"},"mark":{"type":"tick","orient":"horizontal","size":40,"thickness":3,"opacity":1},"encoding":{"stroke":{"field":"g","type":"nominal","legend":null,"scale":{"domain":["no anti-CD20","anti-CD20"],"range":["#3a52a8","#f03a28"]}},"fill":{"field":"g","type":"nominal","legend":null,"scale":{"domain":["no anti-CD20","anti-CD20"],"range":["#3a52a8","#f03a28"]}}}}
]}
]}
]}
